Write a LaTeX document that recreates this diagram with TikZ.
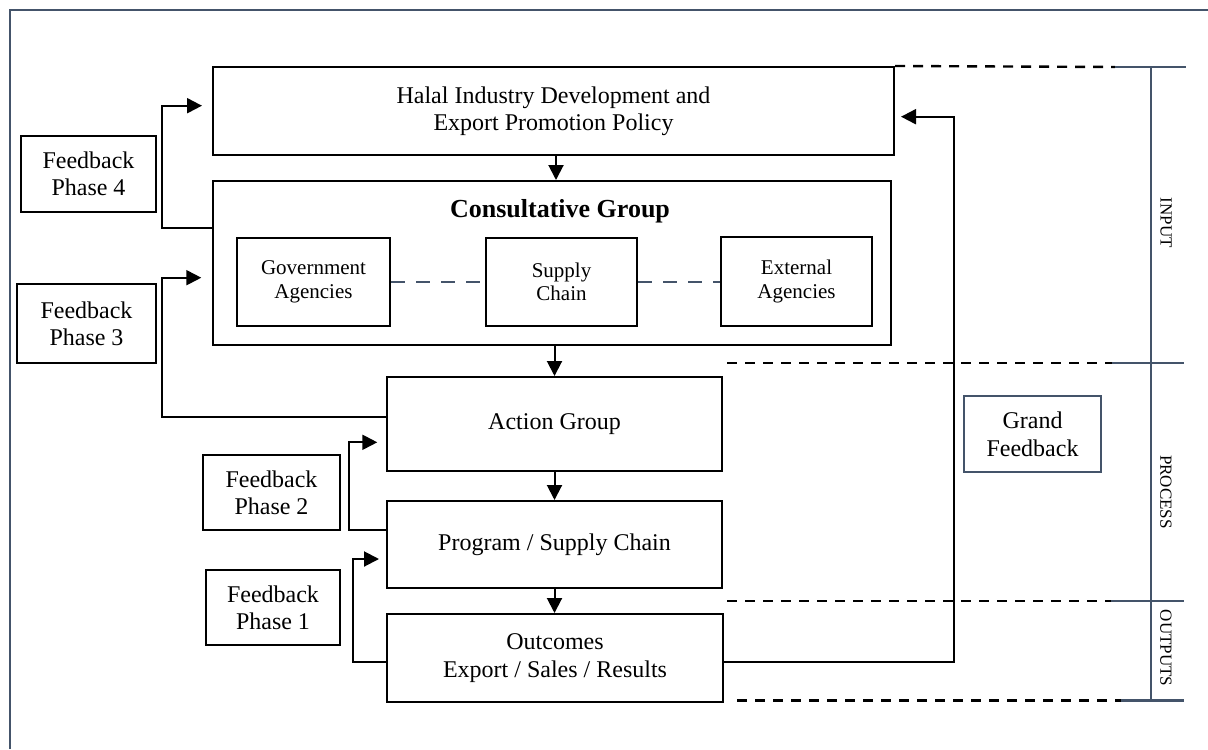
\documentclass[tikz,border=0pt]{standalone}
\usepackage{fontspec}
\setmainfont{Liberation Serif}
\usetikzlibrary{arrows.meta}
\definecolor{slate}{RGB}{68,84,106}
\begin{document}
\begin{tikzpicture}[x=0.5pt,y=-0.5pt,
  box/.style={draw=black, line width=1pt, align=center, inner sep=0pt,
    font=\fontsize{12}{13.7}\selectfont},
  fbbox/.style={box, font=\fontsize{12}{13.4}\selectfont},
  innerbox/.style={box, font=\fontsize{10.5}{11.8}\selectfont},
  grandbox/.style={box, draw=slate, font=\fontsize{12}{14}\selectfont},
  arr/.style={line width=1pt, -{Triangle[length=7.5pt,width=7.5pt]}},
  bdash/.style={line width=1.2pt, dash pattern=on 5pt off 4pt},
  sdash/.style={draw=slate, line width=1pt, dash pattern=on 7pt off 5.5pt},
  slateln/.style={draw=slate, line width=1.2pt},
  rotlabel/.style={rotate=-90, font=\fontsize{8.5}{10}\selectfont, inner sep=0pt}]
\useasboundingbox (0,0) rectangle (1208,749);

% outer frame
\draw[slateln] (10,749) -- (10,10) -- (1208,10);

% main column
\node[box, minimum width=340.5pt, minimum height=44pt] (halal) at (553.5,111)
  {Halal Industry Development and\\Export Promotion Policy};
\node[box, minimum width=339pt, minimum height=82pt] (consult) at (552,263) {};
\node[font=\fontsize{13}{15}\selectfont\bfseries, inner sep=0pt] (cgtitle) at (560,211) {Consultative Group};
\node[innerbox, minimum width=76.5pt, minimum height=44pt] (gov) at (313.5,282) {Government\\Agencies};
\node[innerbox, minimum width=75.5pt, minimum height=44pt] (sup) at (561.5,282) {Supply\\Chain};
\node[innerbox, minimum width=75.5pt, minimum height=44.5pt] (ext) at (796.5,281.5) {External\\Agencies};
\draw[sdash] (gov.east) -- (sup.west);
\draw[sdash] (sup.east) -- (sup.east -| ext.west);

\node[box, minimum width=167.5pt, minimum height=47pt] (action) at (554.5,424) {Action Group};
\node[box, minimum width=167.5pt, minimum height=43.5pt] (program) at (554.5,544.5) {Program / Supply Chain};
\node[box, minimum width=168pt, minimum height=44pt] (outcomes) at (555,658) {Outcomes\\Export / Sales / Results};

% feedback boxes
\node[fbbox, minimum width=67.5pt, minimum height=38pt] (fb4) at (88.5,174) {Feedback\\Phase 4};
\node[fbbox, minimum width=69.5pt, minimum height=39.5pt] (fb3) at (86.5,323.5) {Feedback\\Phase 3};
\node[fbbox, minimum width=68.5pt, minimum height=37.5pt] (fb2) at (271.5,492.5) {Feedback\\Phase 2};
\node[fbbox, minimum width=67pt, minimum height=37.5pt] (fb1) at (273,607.5) {Feedback\\Phase 1};
\node[grandbox, minimum width=68.5pt, minimum height=38pt] (grand) at (1032.5,434) {Grand\\Feedback};

% vertical flow arrows
\draw[arr] ([xshift=1.25pt]halal.south) -- ([xshift=1.25pt]halal.south |- consult.north);
\draw[arr] ([xshift=1.25pt]consult.south) -- ([xshift=1.25pt]consult.south |- action.north);
\draw[arr] (action.south) -- (action.south |- program.north);
\draw[arr] (program.south) -- (program.south |- outcomes.north);

% feedback loops
\draw[arr, shorten >=5pt] ([yshift=17.5pt]consult.west) -- ++(-50,0) |- ([yshift=2.65pt]halal.west);
\draw[arr, shorten >=5.35pt] ([yshift=3.65pt]action.west) -- ++(-224.5,0) |- ([yshift=-7.35pt]consult.west);
\draw[arr, shorten >=4.35pt] ([yshift=7.25pt]program.west) -- ++(-37,0) |- ([yshift=-9.15pt]action.west);
\draw[arr, shorten >=3.5pt] ([yshift=-1.85pt]outcomes.west) -- ++(-33.3,0) |- ([yshift=-7.25pt]program.west);
\draw[arr, shorten >=3pt] ([yshift=-2.15pt]outcomes.east) -- ++(230.3,0) |- ([yshift=-2.85pt]halal.east);

% phase separators
\coordinate (d1e) at (1115,67);
\coordinate (d2s) at (727,362.7);
\coordinate (d2e) at (1112,362.7);
\coordinate (d3s) at (727,601);
\coordinate (d3e) at (1111,601);
\coordinate (d4s) at (737,700.5);
\coordinate (d4e) at (1121,700.5);
\draw[bdash] (halal.north east) -- (d1e);
\draw[bdash] (d2s) -- (d2e);
\draw[bdash] (d3s) -- (d3e);
\draw[bdash] (d4s) -- (d4e);
\draw[slateln] (d1e) -- (1186,67);
\draw[slateln] (d2e) -- (1184,362.7);
\draw[slateln] (d3e) -- (1184,601);
\draw[slateln] (d4e) -- (1184,700.5);
\draw[slateln] (1151,67) -- (1151,700.5);

\node[rotlabel] (lin) at (1166,223) {INPUT};
\node[rotlabel] (lproc) at (1166,492) {PROCESS};
\node[rotlabel] (lout) at (1166,648) {OUTPUTS};
\end{tikzpicture}
\end{document}
